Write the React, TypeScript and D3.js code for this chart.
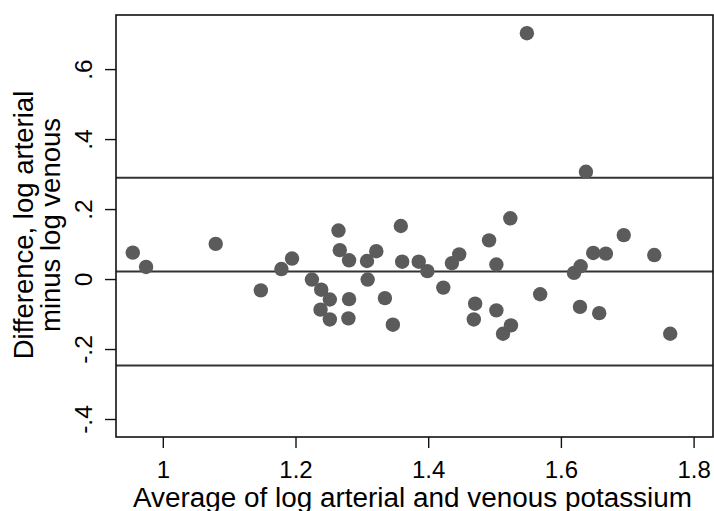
import React from 'react';
import * as d3 from 'd3';

// average of log arterial & venous (x) and their difference (y)
const avgLog = [
  0.954, 0.974, 1.079, 1.147, 1.178, 1.194, 1.224, 1.238, 1.251, 1.237,
  1.251, 1.264, 1.266, 1.280, 1.280, 1.279, 1.307, 1.321, 1.308, 1.334,
  1.346, 1.358, 1.360, 1.385, 1.398, 1.422, 1.435, 1.446, 1.470, 1.468,
  1.491, 1.502, 1.502, 1.512, 1.524, 1.523, 1.548, 1.568, 1.619, 1.629,
  1.628, 1.637, 1.648, 1.667, 1.657, 1.694, 1.740, 1.764,
];
const diffLog = [
  0.077, 0.036, 0.102, -0.031, 0.030, 0.060, 0.000, -0.029, -0.057, -0.086,
  -0.114, 0.140, 0.084, 0.055, -0.056, -0.111, 0.053, 0.081, 0.000, -0.053,
  -0.129, 0.153, 0.051, 0.051, 0.024, -0.023, 0.047, 0.072, -0.069, -0.114,
  0.112, 0.043, -0.088, -0.155, -0.131, 0.175, 0.704, -0.042, 0.019, 0.038,
  -0.078, 0.308, 0.076, 0.074, -0.096, 0.127, 0.070, -0.155,
];

// mean difference and limits of agreement
const refLines = [0.2907, 0.0229, -0.246];

const xTicks = [1, 1.2, 1.4, 1.6, 1.8];
const xTickLabels = ['1', '1.2', '1.4', '1.6', '1.8'];
const yTicks = [-0.4, -0.2, 0, 0.2, 0.4, 0.6];
const yTickLabels = ['-.4', '-.2', '0', '.2', '.4', '.6'];

const FONT = '"Liberation Sans", Arial, Helvetica, sans-serif';

const App = () => {
  const left = 116, right = 713, top = 15, bottom = 437;

  const x = d3.scaleLinear().domain([0.9287, 1.8285]).range([left, right]);
  const y = d3.scaleLinear().domain([-0.45, 0.756]).range([bottom, top]);

  const points = avgLog.map((v, i) => ({ a: v, d: diffLog[i] }));

  return (
    <svg
      width={714}
      height={511}
      style={{ position: 'absolute', left: 0, top: 0, background: '#fff' }}
      fontFamily={FONT}
    >
      <rect x={0} y={0} width={714} height={511} fill="#fff" />

      {refLines.map((v, i) => (
        <line key={i} x1={left} x2={right} y1={y(v)} y2={y(v)} stroke="#333" strokeWidth={2} />
      ))}

      {points.map((p, i) => (
        <circle key={i} cx={x(p.a)} cy={y(p.d)} r={7.2} fill="#5b5b5b" />
      ))}

      <rect
        x={left}
        y={top}
        width={right - left}
        height={bottom - top}
        fill="none"
        stroke="#111"
        strokeWidth={1.6}
      />

      {/* y axis */}
      {yTicks.map((t, i) => (
        <g key={i}>
          <line x1={left - 11} x2={left} y1={y(t)} y2={y(t)} stroke="#111" strokeWidth={1.4} />
          <text
            transform={`translate(${92},${y(t)}) rotate(-90)`}
            textAnchor="middle"
            fontSize={24.5}
            fill="#000"
          >
            {yTickLabels[i]}
          </text>
        </g>
      ))}

      {/* x axis */}
      {xTicks.map((t, i) => (
        <g key={i}>
          <line x1={x(t)} x2={x(t)} y1={bottom} y2={bottom + 11} stroke="#111" strokeWidth={1.4} />
          <text x={x(t)} y={478} textAnchor="middle" fontSize={24} fill="#000">
            {xTickLabels[i]}
          </text>
        </g>
      ))}

      <text
        x={(left + right) / 2 - 2}
        y={507}
        textAnchor="middle"
        fontSize={27}
        textLength={559}
        lengthAdjust="spacingAndGlyphs"
        fill="#000"
      >
        Average of log arterial and venous potassium
      </text>

      <text
        transform={`translate(${33},${225}) rotate(-90)`}
        textAnchor="middle"
        fontSize={27.5}
        fill="#000"
      >
        Difference, log arterial
      </text>
      <text
        transform={`translate(${60},${225}) rotate(-90)`}
        textAnchor="middle"
        fontSize={27.5}
        fill="#000"
      >
        minus log venous
      </text>
    </svg>
  );
};

export default App;
